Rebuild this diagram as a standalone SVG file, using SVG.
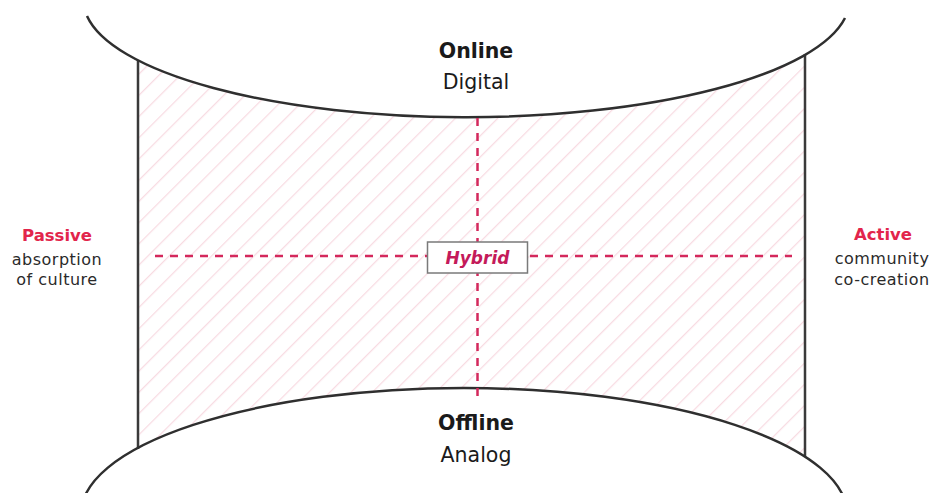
<svg xmlns="http://www.w3.org/2000/svg" width="938" height="493" viewBox="0 0 938 493">
<defs>
<pattern id="hatch" patternUnits="userSpaceOnUse" width="15" height="15" patternTransform="rotate(45)">
<line x1="0" y1="0" x2="0" y2="15" stroke="#f8dbe2" stroke-width="2.5"/>
</pattern>
<style>
.edge{fill:none;stroke:#2f2f2f;stroke-width:2.5}
.side{stroke:#3a3a3a;stroke-width:2.5}
.dash{stroke:#d4285c;stroke-width:2.5;stroke-dasharray:8 7;fill:none}
.t{font-family:"DejaVu Sans","Noto Sans",sans-serif;text-anchor:middle}
.big{font-size:20.5px;fill:#1a1a1a}
.b{font-weight:bold}
.red{font-size:16.5px;font-weight:bold;fill:#e2254b}
.sub{font-size:16px;fill:#2a2a2a;letter-spacing:0.5px}
</style>
</defs>
<rect width="938" height="493" fill="#ffffff"/>
<g id="region">
<path d="M138,60.4 A383,117 0 0 0 805,54.5 L805,456.6 A383,126 0 0 0 138,448 Z" fill="url(#hatch)"/>
<line class="side" x1="138" y1="60" x2="138" y2="449"/>
<line class="side" x1="805" y1="54" x2="805" y2="457"/>
</g>
<g id="online">
<path class="edge" d="M87,16 A383,117 0 0 0 845,18"/>
<text class="t big b" x="476" y="58">Online</text>
<text class="t big" x="476" y="89">Digital</text>
</g>
<g id="offline">
<ellipse class="edge" cx="464" cy="514" rx="383" ry="126" fill="#ffffff"/>
<text class="t big b" x="476" y="430">Offline</text>
<text class="t big" x="476" y="462">Analog</text>
</g>
<g id="connectors">
<line class="dash" x1="477.5" y1="118" x2="477.5" y2="399"/>
<line class="dash" x1="155" y1="256" x2="792" y2="256"/>
</g>
<g id="hybrid">
<rect x="427.5" y="242" width="100" height="31" fill="#ffffff" stroke="#7a7a7a" stroke-width="1.5"/>
<text class="t b" x="477.5" y="264" font-size="17" font-style="italic" fill="#c41a5a">Hybrid</text>
</g>
<g id="passive">
<text class="t red" x="57" y="241">Passive</text>
<text class="t sub" x="57" y="265">absorption</text>
<text class="t sub" x="57" y="285">of culture</text>
</g>
<g id="active">
<text class="t red" x="883" y="240">Active</text>
<text class="t sub" x="882" y="264">community</text>
<text class="t sub" x="882" y="285">co-creation</text>
</g>
</svg>
